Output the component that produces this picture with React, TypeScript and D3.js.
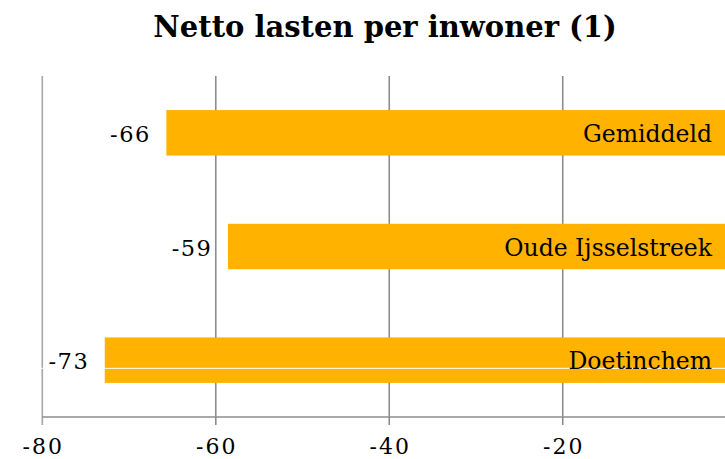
import React from "react";
import * as d3 from "d3";

const categories = ["Gemiddeld", "Oude Ijsselstreek", "Doetinchem"];
const values = [-65.7, -58.6, -72.8];
const valueLabels = ["-66", "-59", "-73"];
const ticks = [-80, -60, -40, -20];
const title = "Netto lasten per inwoner (1)";

const W = 725;
const H = 459;
const FONT = "'DejaVu Serif', Georgia, serif";
const VAL_LS = 1.5;
const TICK_LS = 2;

export default function App() {
  const x = d3.scaleLinear().domain([-80, 0]).range([42.3, 736.2]);
  const y = d3
    .scaleBand<string>()
    .domain(categories)
    .range([76, 417])
    .paddingInner(0.6)
    .paddingOuter(0.3);
  const bw = y.bandwidth();
  const last = categories[categories.length - 1];
  return (
    <svg
      width={W}
      height={H}
      style={{ position: "absolute", left: 0, top: 0, background: "#fff" }}
    >
      <text
        x={385}
        y={37}
        textAnchor="middle"
        fontFamily={FONT}
        fontWeight="bold"
        fontSize={29}
        fill="#000"
      >
        {title}
      </text>
      {ticks.map((t) => (
        <line
          key={"g" + t}
          x1={x(t)}
          x2={x(t)}
          y1={76}
          y2={425}
          stroke={t === -80 ? "#a6a6a6" : "#8c8c8c"}
          strokeWidth={1.6}
        />
      ))}
      <line x1={x(-80)} x2={W} y1={417} y2={417} stroke="#8c8c8c" strokeWidth={1.6} />
      {categories.map((c, i) => (
        <rect
          key={c}
          x={x(values[i])}
          y={y(c)!}
          width={x(0) - x(values[i])}
          height={bw}
          fill="#FFB300"
        />
      ))}
      <line
        x1={x(-80) - 1}
        x2={W}
        y1={y(last)! + bw * 0.68}
        y2={y(last)! + bw * 0.68}
        stroke="#fff"
        strokeWidth={1}
      />
      {categories.map((c, i) => (
        <text
          key={"v" + c}
          x={x(values[i]) - 17 + VAL_LS}
          y={y(c)! + bw / 2 + 9}
          textAnchor="end"
          fontFamily={FONT}
          fontSize={22.5}
          letterSpacing={VAL_LS}
          fill="#000"
        >
          {valueLabels[i]}
        </text>
      ))}
      {categories.map((c) => (
        <text
          key={"c" + c}
          x={712}
          y={y(c)! + bw / 2 + 9}
          textAnchor="end"
          fontFamily={FONT}
          fontSize={23.5}
          fill="#000"
        >
          {c}
        </text>
      ))}
      {ticks.map((t) => (
        <text
          key={"t" + t}
          x={x(t) + TICK_LS / 2}
          y={454}
          textAnchor="middle"
          fontFamily={FONT}
          fontSize={22}
          letterSpacing={TICK_LS}
          fill="#000"
        >
          {t}
        </text>
      ))}
    </svg>
  );
}
